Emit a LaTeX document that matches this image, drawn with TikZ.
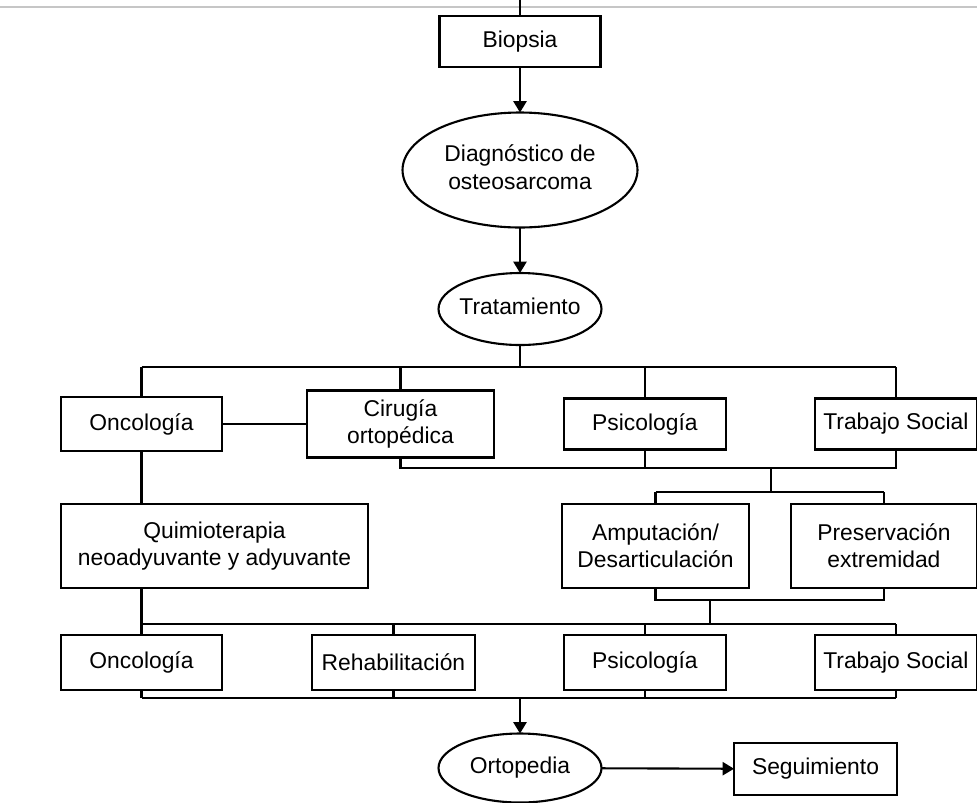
\documentclass[tikz,border=0pt]{standalone}
\usepackage{fontspec}
\setmainfont{Liberation Sans}
\usetikzlibrary{positioning, shapes.geometric, arrows.meta}

\newcommand{\sinancho}[1]{\makebox[0pt]{\begin{tabular}{@{}c@{}}#1\end{tabular}}}

\begin{document}
\begin{tikzpicture}[
    x=0.02cm, y=-0.02cm,
    caja/.style={rectangle, draw=black, line width=1.2pt, align=center,
      inner sep=2pt, outer sep=0pt, font=\fontsize{13}{15.5}\selectfont},
    elipse/.style={ellipse, draw=black, line width=1.2pt, inner sep=0pt,
      outer sep=0pt, font=\fontsize{13}{15.5}\selectfont},
    line/.style={-, line width=1.2pt},
    flecha/.style={line, -{Triangle[width=7.5pt, length=6.5pt]}}
    ]
    \useasboundingbox (0,0) rectangle (977,802);

    % Borde de la hoja
    \coordinate (bordeIzq) at (0,7);
    \coordinate (bordeDer) at (977,7);
    \draw[gray!45, line width=1.2pt] (bordeIzq) -- (bordeDer);

    % Diagnostico
    \coordinate (entrada) at (520,0);
    \node[caja, minimum width=3.22cm, minimum height=1.02cm] (Biopsia)
    at (520,41.5) {Biopsia};
    \node[elipse, minimum width=4.7cm, minimum height=2.3cm] (Diagnostico)
    at (520,170) {\sinancho{Diagnóstico de\\osteosarcoma}};
    \node[elipse, minimum width=3.26cm, minimum height=1.44cm] (Tratamiento)
    at (520,309) {\sinancho{Tratamiento}};
    \draw[line] (entrada) -- (Biopsia);
    \draw[flecha] (Biopsia) -- (Diagnostico);
    \draw[flecha] (Diagnostico) -- (Tratamiento);

    % Primer nivel
    \node[caja, minimum width=3.22cm, minimum height=1.08cm] (Oncologia)
    at (141.5,424) {Oncología};
    \node[caja, minimum width=3.74cm, minimum height=1.34cm,
      right=1.7cm of Oncologia] (Cirugia) {Cirugía\\ortopédica};
    \node[caja, minimum width=3.24cm, minimum height=1.02cm,
      right=1.4cm of Cirugia] (Psicologia) {Psicología};
    \node[caja, minimum width=3.24cm, minimum height=1.02cm,
      right=1.78cm of Psicologia] (TrabajoSocial) {Trabajo Social};

    \coordinate (bus1) at (520,367);
    \draw[line] (Tratamiento) -- (bus1);
    \draw[line] (Oncologia.north |- bus1) -- (TrabajoSocial.north |- bus1);
    \draw[line] (Oncologia.north) -- (Oncologia.north |- bus1);
    \draw[line] (Cirugia.north) -- (Cirugia.north |- bus1);
    \draw[line] (Psicologia.north) -- (Psicologia.north |- bus1);
    \draw[line] (TrabajoSocial.north) -- (TrabajoSocial.north |- bus1);
    \draw[line] (Oncologia) -- (Cirugia);

    % Segundo nivel
    \node[caja, minimum width=6.14cm, minimum height=1.68cm] (Quimioterapia)
    at (214.5,546) {Quimioterapia\\neoadyuvante y adyuvante};
    \node[caja, minimum width=3.74cm, minimum height=1.68cm] (Amputacion)
    at (655.5,546) {Amputación/\\Desarticulación};
    \node[caja, minimum width=3.72cm, minimum height=1.68cm,
      right=0.84cm of Amputacion] (Preservacion) {Preservación\\extremidad};

    \coordinate (bus2) at (771,468);
    \coordinate (bus3) at (771,492);
    \draw[line] (Cirugia.south) -- (Cirugia.south |- bus2)
    -- (TrabajoSocial.south |- bus2) -- (TrabajoSocial.south);
    \draw[line] (Psicologia.south) -- (Psicologia.south |- bus2);
    \draw[line] (bus2) -- (bus3);
    \draw[line] (Amputacion.north |- bus3) -- (Preservacion.north |- bus3);
    \draw[line] (Amputacion.north) -- (Amputacion.north |- bus3);
    \draw[line] (Preservacion.north) -- (Preservacion.north |- bus3);
    \draw[line] (Oncologia.south) -- (Oncologia.south |- Quimioterapia.north);

    % Tercer nivel
    \node[caja, minimum width=3.22cm, minimum height=1.1cm] (Oncologia2)
    at (141.5,662.5) {Oncología};
    \node[caja, minimum width=3.26cm, minimum height=1.1cm,
      right=1.8cm of Oncologia2] (Rehabilitacion) {Rehabilitación};
    \node[caja, minimum width=3.24cm, minimum height=1.1cm,
      right=1.78cm of Rehabilitacion] (Psicologia2) {Psicología};
    \node[caja, minimum width=3.24cm, minimum height=1.1cm,
      right=1.78cm of Psicologia2] (TrabajoSocial2) {Trabajo Social};

    \coordinate (bus4) at (710,600);
    \coordinate (bus5) at (710,624);
    \draw[line] (Amputacion.south) -- (Amputacion.south |- bus4)
    -- (Preservacion.south |- bus4) -- (Preservacion.south);
    \draw[line] (bus4) -- (bus5);
    \draw[line] (Oncologia2 |- bus5) -- (TrabajoSocial2 |- bus5);
    \draw[line] (Quimioterapia.south -| Oncologia2) -- (Oncologia2.north);
    \draw[line] (Rehabilitacion.north) -- (Rehabilitacion.north |- bus5);
    \draw[line] (Psicologia2.north) -- (Psicologia2.north |- bus5);
    \draw[line] (TrabajoSocial2.north) -- (TrabajoSocial2.north |- bus5);

    % Seguimiento
    \node[elipse, minimum width=3.26cm, minimum height=1.38cm] (Ortopedia)
    at (520,768) {\sinancho{Ortopedia}};
    \node[caja, minimum width=3.26cm, minimum height=1.04cm] (Seguimiento)
    at (815.5,769) {Seguimiento};

    \coordinate (bus6) at (520,698);
    \draw[line] (Oncologia2.south |- bus6) -- (TrabajoSocial2.south |- bus6);
    \draw[line] (Oncologia2.south) -- (Oncologia2.south |- bus6);
    \draw[line] (Rehabilitacion.south) -- (Rehabilitacion.south |- bus6);
    \draw[line] (Psicologia2.south) -- (Psicologia2.south |- bus6);
    \draw[line] (TrabajoSocial2.south) -- (TrabajoSocial2.south |- bus6);
    \draw[flecha] (bus6) -- (Ortopedia);
    \draw[flecha] (Ortopedia) -- (Seguimiento);

  \end{tikzpicture}
\end{document}
